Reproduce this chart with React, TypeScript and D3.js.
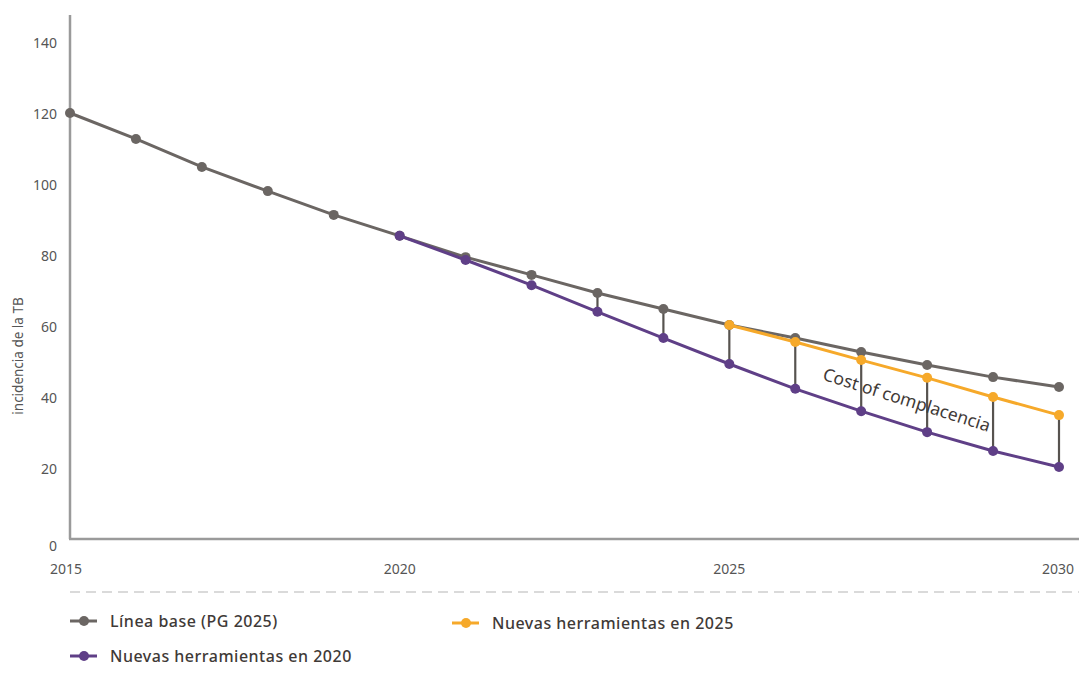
import React from "react";
import * as d3 from "d3";

const years = [2015, 2016, 2017, 2018, 2019, 2020, 2021, 2022, 2023, 2024, 2025, 2026, 2027, 2028, 2029, 2030];
const baseline = [120, 112.7, 104.8, 98, 91.3, 85.4, 79.4, 74.4, 69.3, 64.8, 60.3, 56.6, 52.7, 49, 45.6, 42.8];
const years2020 = [2020, 2021, 2022, 2023, 2024, 2025, 2026, 2027, 2028, 2029, 2030];
const tools2020 = [85.4, 78.6, 71.5, 64, 56.6, 49.3, 42.3, 36, 30.1, 24.8, 20.3];
const years2025 = [2025, 2026, 2027, 2028, 2029, 2030];
const tools2025 = [60.3, 55.5, 50.4, 45.4, 40, 34.9];
const yTicks = [0, 20, 40, 60, 80, 100, 120, 140];
const xTicks = [2015, 2020, 2025, 2030];
const connectorYears = [2023, 2024];

const legendItems = [
  { label: "Línea base (PG 2025)", color: "#6b6663" },
  { label: "Nuevas herramientas en 2020", color: "#5f3f87" },
  { label: "Nuevas herramientas en 2025", color: "#f6a92a" },
];

const W = 1079;
const H = 674;
const FONT = "'Noto Sans', sans-serif";

export default function App() {
  const x = d3.scaleLinear().domain([2015, 2030]).range([70, 1059]);
  const y = d3.scaleLinear().domain([0, 140]).range([539, 42]);
  const line = d3
    .line<[number, number]>()
    .x((d) => x(d[0]))
    .y((d) => y(d[1]));

  const gray = legendItems[0].color;
  const purple = legendItems[1].color;
  const yellow = legendItems[2].color;

  const basePts: [number, number][] = years.map((yr, i) => [yr, baseline[i]]);
  const p20: [number, number][] = years2020.map((yr, i) => [yr, tools2020[i]]);
  const p25: [number, number][] = years2025.map((yr, i) => [yr, tools2025[i]]);

  const connectors: { yr: number; top: number; bottom: number }[] = [];
  connectorYears.forEach((yr) => {
    connectors.push({
      yr,
      top: baseline[years.indexOf(yr)],
      bottom: tools2020[years2020.indexOf(yr)],
    });
  });
  years2025.forEach((yr, i) => {
    connectors.push({ yr, top: tools2025[i], bottom: tools2020[years2020.indexOf(yr)] });
  });

  const series = [
    { pts: basePts, color: gray },
    { pts: p20, color: purple },
    { pts: p25, color: yellow },
  ];

  const annX = 907;
  const annY = 399;

  return (
    <svg
      width={W}
      height={H}
      style={{ position: "absolute", left: 0, top: 0, background: "#fff" }}
      fontFamily={FONT}
    >
      {/* axes */}
      <line x1={70} x2={70} y1={15} y2={539} stroke="#9a9a9a" strokeWidth={2.5} />
      <line x1={69} x2={1079} y1={539} y2={539} stroke="#9a9a9a" strokeWidth={2.5} />
      <line
        x1={70}
        x2={1079}
        y1={592}
        y2={592}
        stroke="#b5b5b5"
        strokeWidth={1.2}
        strokeDasharray="10 6"
      />

      {yTicks.map((t) => (
        <text
          key={t}
          x={57}
          y={t === 0 ? y(t) + 6 : y(t)}
          textAnchor="end"
          dominantBaseline="central"
          fontSize={14}
          fill="#555"
        >
          {t}
        </text>
      ))}
      {xTicks.map((t) => (
        <text
          key={t}
          x={t === 2015 ? x(t) - 4 : t === 2030 ? x(t) - 1 : x(t)}
          y={568}
          textAnchor="middle"
          dominantBaseline="central"
          fontSize={14}
          fill="#555"
        >
          {t}
        </text>
      ))}
      <text
        transform="translate(18,356) rotate(-90)"
        textAnchor="middle"
        dominantBaseline="central"
        fontSize={13.5}
        fill="#555"
      >
        incidencia de la TB
      </text>

      {/* connectors */}
      {connectors.map((c) => (
        <line
          key={c.yr}
          x1={x(c.yr)}
          x2={x(c.yr)}
          y1={y(c.top)}
          y2={y(c.bottom)}
          stroke="#57534f"
          strokeWidth={2.2}
        />
      ))}

      {/* series */}
      {series.map((s, si) => (
        <g key={si}>
          <path d={line(s.pts) || ""} fill="none" stroke={s.color} strokeWidth={3} />
          {s.pts.map((p, i) => (
            <circle key={i} cx={x(p[0])} cy={y(p[1])} r={5} fill={s.color} />
          ))}
        </g>
      ))}

      <text
        transform={`translate(${annX},${annY}) rotate(17.5)`}
        textAnchor="middle"
        dominantBaseline="central"
        fontSize={17.5}
        fill="#3f3a37"
      >
        Cost of complacencia
      </text>

      {/* legend */}
      {[
        { item: legendItems[0], lx: 70, ly: 621 },
        { item: legendItems[1], lx: 70, ly: 656 },
        { item: legendItems[2], lx: 452, ly: 623 },
      ].map(({ item, lx, ly }) => (
        <g key={item.label}>
          <line x1={lx} x2={lx + 27} y1={ly} y2={ly} stroke={item.color} strokeWidth={3} />
          <circle cx={lx + 14} cy={ly} r={5} fill={item.color} />
          <text
            x={lx + 40}
            y={ly}
            dominantBaseline="central"
            fontSize={16}
            letterSpacing={0.5}
            fontWeight={500}
            fill="#3f3a37"
          >
            {item.label}
          </text>
        </g>
      ))}
    </svg>
  );
}
